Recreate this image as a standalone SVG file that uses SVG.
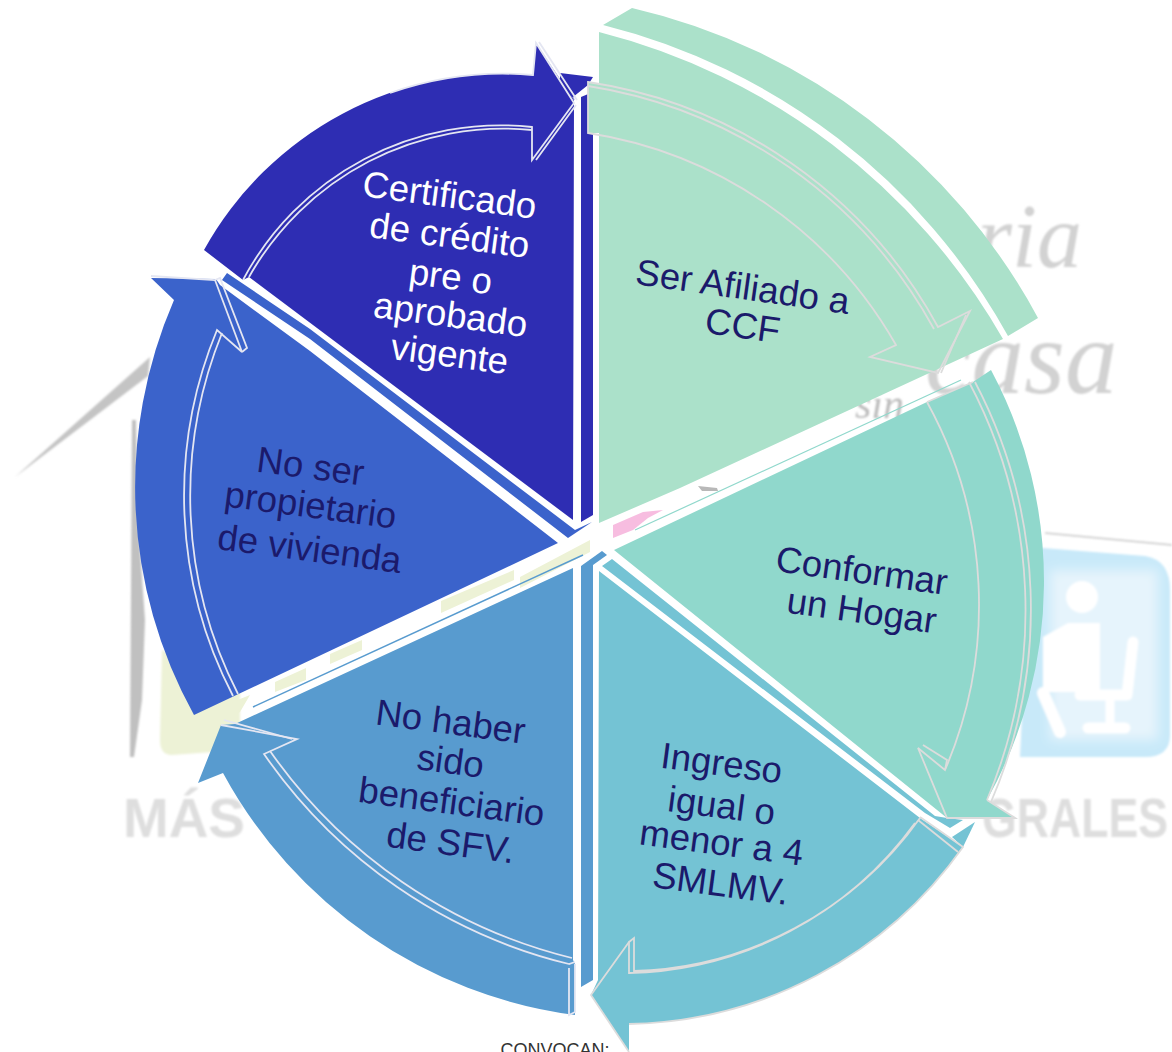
<svg xmlns="http://www.w3.org/2000/svg" width="1172" height="1052" viewBox="0 0 1172 1052">
<defs>
<filter id="soft" x="-10%" y="-10%" width="120%" height="120%"><feGaussianBlur stdDeviation="1"/></filter>
<filter id="softer" x="-20%" y="-20%" width="140%" height="140%"><feGaussianBlur stdDeviation="6"/></filter>
<style>
text{font-family:"Liberation Sans",Arial,sans-serif;font-size:36.6px;text-anchor:middle;fill:#1b1a6b}
.on{fill:#fff}
.ln{fill:none;stroke:#dcdcdc;stroke-width:1.8;stroke-linejoin:miter}
.lw{fill:none;stroke:#e4e6f2;stroke-width:1.8;stroke-linejoin:miter}
.mk{fill:#d2d2d2;font-family:"Liberation Serif",serif;font-style:italic;text-anchor:start}
.big{fill:#dedede;font-size:56px;font-weight:bold;text-anchor:start}
.ic{fill:none;stroke:#fff;stroke-linecap:round;stroke-linejoin:round}
.ye{fill:#edf2d6}
</style>
</defs>
<rect width="1172" height="1052" fill="#fff"/>
<g id="background" filter="url(#soft)">
<path d="M15,477 L150,357 L148,376 Z" fill="#c4c4c4"/>
<path d="M132,420 L136,420 L138,520 L145,620 L142,700 L134,757 L130,757Z" fill="#c0c0c0"/>
<path d="M162,650 L240,690 L240,750 L172,755 Q160,755 160,740Z" fill="#edf2d6"/>
<path d="M1045,533 L1172,545" stroke="#c8c8c8" stroke-width="1.5" fill="none"/>
<path d="M1030,547 L1145,556 Q1170,560 1170,590 L1170,735 Q1170,757 1145,757 L1020,757Z" fill="#c8e9f9"/>
<rect x="1050" y="570" width="108" height="170" fill="#e6f4fc" filter="url(#softer)"/>
<circle class="on" cx="1082" cy="597" r="16"/>
<path class="on" d="M1043,637 L1068,623 L1100,623 L1100,692 L1043,692Z"/>
<path class="ic" stroke-width="12" d="M1043,693 L1060,732"/>
<path class="ic" stroke-width="11" d="M1133,642 L1127,695 L1080,695"/>
<path class="ic" stroke-width="9" d="M1110,700 L1110,727"/>
<path class="ic" stroke-width="11" d="M1088,728 L1125,728"/>
<text class="big" x="123" y="837" textLength="122" lengthAdjust="spacingAndGlyphs">MÁS</text>
<text class="big" x="982" y="837" textLength="186" lengthAdjust="spacingAndGlyphs">GRALES</text>
<text class="mk" x="977" y="267" style="font-size:90px">ria</text>
<text class="mk" x="925" y="393" style="font-size:105px">casa</text>
<text class="mk" x="855" y="418" style="font-size:42px;fill:#bcbcbc">sin</text>
</g>
<g id="center-marks">
<path d="M613,525 L643,512 L663,510 L648,518 L633,530 L613,538Z" fill="#f7bde0"/>
<path d="M698,486 L717,488 L718,491 L702,491Z" fill="#b8b8b8"/>
<path class="ye" d="M441,601 L514,570 L514,580 L441,613Z M330,654 L362,640 L362,650 L330,664Z M275,682 L306,668 L306,680 L275,692Z M520,577 L590,540 L590,552 L520,588Z M225,705 L250,695 L240,712 L225,720Z"/>
</g>
<g id="seg-certificado">
<path d="M560,73 L593,77 L588,85 L573,97 L575,100 L560,85Z" fill="#2e2db3"/>
<path d="M581,97 L593,92 L593,515 L581,522Z" fill="#2e2db3"/>
<path d="M204,250 A342,342 0 0 1 533,75 L536,43 L574,100 L573,520 L249,277 L243,280Z" fill="#2e2db3"/>
<path class="lw" d="M243,280 A292,292 0 0 1 532,127 L532,160 L574,103 L536,43 L533,75 A342,342 0 0 0 390,93"/>
<path class="lw" d="M249,277 A292,292 0 0 1 532,130"/>
<path class="lw" d="M539,42 L577,100 M536,160 L576,105"/>
<text style="fill:#fff" transform="translate(448,207.5) rotate(7.5)">Certificado</text>
<text style="fill:#fff" transform="translate(448,247.5) rotate(7.5)">de crédito</text>
<text style="fill:#fff" transform="translate(449,289) rotate(7.5)">pre o</text>
<text style="fill:#fff" transform="translate(449,327) rotate(7.5)">aprobado</text>
<text style="fill:#fff" transform="translate(448,366.5) rotate(7.5)">vigente</text>
</g>
<g id="seg-afiliado">
<path d="M632,8 A620,620 0 0 1 1038,318 L1008,336 A640,640 0 0 0 603,25Z" fill="#abe1ca"/>
<path d="M599,32 A650,650 0 0 1 1003,339 L680,488 L599,523 L599,133 L588,133 L588,82 L599,84Z" fill="#abe1ca"/>
<path class="ln" d="M588,82 A480,480 0 0 1 938,327 L970,311 L938,373 L870,357 L896,345 A430,430 0 0 0 588,133Z"/>
<path class="ln" d="M588,86 A480,480 0 0 1 934,329"/>
<path class="ln" d="M966,315 L941,373"/>
<text transform="translate(741,299) rotate(8)">Ser Afiliado a</text>
<text transform="translate(741,338) rotate(8)">CCF</text>
</g>
<g id="seg-ingreso">
<path d="M612,559 L935,816 L947,818 L963,820 L950,828 L925,813 L602,566Z" fill="#74c3d4"/>
<path d="M599,571 L920,818 L963,847 A419,419 0 0 1 629,1024 L629,1052 L591,995 L598,980Z" fill="#74c3d4"/>
<path d="M952,837 L975,822 L963,847Z" fill="#74c3d4"/>
<path class="ln" d="M920,818 A364,364 0 0 1 634,971 L634,938 L629,942 L629,973 A364,364 0 0 0 915,823"/>
<path class="ln" d="M629,942 L591,995 L629,1052"/>
<path class="ln" d="M920,817 L963,847 A419,419 0 0 1 629,1024"/>
<path class="ln" d="M918,820 L958,852"/>
<text transform="translate(720,775.5) rotate(7.5)">Ingreso</text>
<text transform="translate(720,818) rotate(7.5)">igual o</text>
<text transform="translate(720,855) rotate(7.5)">menor a 4</text>
<text transform="translate(719,896) rotate(7.5)">SMLMV.</text>
</g>
<g id="seg-hogar">
<path d="M614,550 L927,402 L973,382 L991,370 A448,448 0 0 1 987,800 L1015,818 L947,818 L918,748 L945,770 A420,420 0 0 0 927,402Z" fill="#90d8cc"/>
<path d="M614,550 L927,402 A420,420 0 0 1 945,770 L918,748 L947,818Z" fill="#90d8cc"/>
<path d="M635,530 L961,380" stroke="#90d8cc" stroke-width="1.2" fill="none"/>
<path class="ln" d="M927,402 L973,382"/>
<path class="ln" d="M927,402 A420,420 0 0 1 945,770 L918,748 L947,818 L1015,818 L987,800"/>
<path class="ln" d="M969,382 A488,488 0 0 1 987,800"/>
<path class="ln" d="M975,382 A488,488 0 0 1 991,802"/>
<path class="ln" d="M923,745 L947,760 L945,770"/>
<text transform="translate(860,583) rotate(8)">Conformar</text>
<text transform="translate(860,623) rotate(8)">un Hogar</text>
</g>
<g id="seg-beneficiario">
<path d="M581,566 L602,551 L607,555 L593,565 L593,980 L581,987Z" fill="#589bcf"/>
<path d="M573,568 L235,724 L221,725 L198,783 L223,773 A470,470 0 0 0 575,1015 L575,964 L573,960Z" fill="#589bcf"/>
<path d="M253,707 L583,555" stroke="#589bcf" stroke-width="1.5" fill="none"/>
<path class="lw" d="M221,725 L297,739 L264,754 A520,520 0 0 0 569,964 L575,962"/>
<path class="lw" d="M224,720 L292,739 M270,751 A520,520 0 0 0 572,958"/>
<path class="lw" d="M569,968 L569,1015 L575,1012 L575,964"/>
<text transform="translate(449,734) rotate(7.5)">No haber</text>
<text transform="translate(449,773.5) rotate(7.5)">sido</text>
<text transform="translate(450,814) rotate(7.5)">beneficiario</text>
<text transform="translate(449,855) rotate(7.5)">de SFV.</text>
</g>
<g id="seg-vivienda">
<path d="M227,273 L310,329 L575,530 L592,522 L568,538 L310,339 L222,280Z" fill="#3b63cb"/>
<path d="M151,278 L216,279 L220,285 L310,351 L558,543 L194,715 A470,470 0 0 1 174,300Z" fill="#3b63cb"/>
<path class="lw" d="M151,276 L215,280 L242,352 L217,330 A434,434 0 0 0 233,696"/>
<path class="lw" d="M222,333 A434,434 0 0 0 238,694"/>
<path class="lw" d="M215,280 L220,278 L247,348 L242,352"/>
<text transform="translate(309,478.5) rotate(7.5)">No ser</text>
<text transform="translate(309,517.5) rotate(7.5)">propietario</text>
<text transform="translate(308,561) rotate(7.5)">de vivienda</text>
</g>
<text x="555" y="1056" style="font-size:18px;fill:#333">CONVOCAN:</text>
</svg>
